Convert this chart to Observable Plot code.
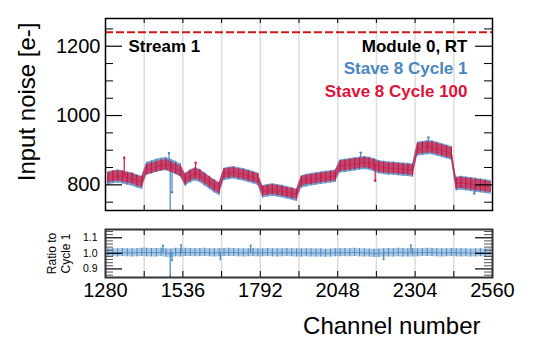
<!DOCTYPE html>
<html><head><meta charset="utf-8">
<script src="https://cdn.jsdelivr.net/npm/d3@7"></script>
<script src="https://cdn.jsdelivr.net/npm/@observablehq/plot@0.6"></script>
<style>
body{margin:0;background:#fff;}
#chart{position:relative;width:534px;height:356px;background:#fff;}
#chart svg{position:absolute;left:0;overflow:visible;}
</style></head><body><div id="chart"></div>
<script>
// ---- data (16-channel bins, 8 per 128-channel chip) ----
const binWidth = 16;
const firstChannel = 1280;
const cycle1 = [
  818, 822, 824, 822, 818, 816, 810, 806,
  846, 850, 855, 858, 860, 855, 849, 842,
  814, 824, 830, 826, 816, 806, 796, 788,
  830, 833, 835, 831, 829, 825, 821, 816,
  780, 783, 785, 783, 781, 777, 774, 770,
  808, 812, 815, 817, 819, 821, 823, 825,
  853, 855, 857, 859, 861, 863, 861, 857,
  851, 849, 847, 847, 845, 844, 843, 841,
  903, 905, 907, 907, 903, 899, 895, 891,
  802, 805, 803, 801, 799, 797, 795, 793
];
const cycle100 = [
  820, 824, 826, 824, 820, 818, 812, 808,
  844, 848, 852, 856, 858, 852, 846, 840,
  816, 826, 832, 828, 818, 808, 798, 790,
  832, 834, 836, 832, 830, 826, 822, 818,
  782, 784, 786, 784, 782, 778, 776, 772,
  810, 814, 816, 818, 820, 822, 824, 826,
  854, 856, 858, 860, 862, 864, 862, 858,
  852, 850, 848, 848, 846, 845, 844, 842,
  904, 906, 908, 908, 904, 900, 896, 892,
  804, 806, 804, 802, 800, 798, 796, 794
];
// visible half-width of the noisy band, per chip
const spread1 = [19, 19, 19, 18, 18, 18, 19, 19, 20, 20];
const spread100 = [15, 15, 15, 14, 14, 14, 15, 15, 16, 16];
const ratio = [
  1.003, 1.004, 1.003, 1.005, 1.004, 1.003, 1.004, 1.006,
  1.005, 1.004, 1.004, 1.006, 1.002, 1.001, 1.005, 1.004,
  1.006, 1.005, 1.004, 1.005, 1.006, 1.004, 1.003, 1.004,
  1.005, 1.006, 1.005, 1.004, 1.003, 1.004, 1.005, 1.004,
  1.004, 1.005, 1.004, 1.003, 1.004, 1.005, 1.004, 1.003,
  1.003, 1.004, 1.003, 1.002, 1.003, 1.001, 1.002, 1.004,
  1.004, 1.005, 1.004, 1.006, 1.004, 1.003, 1.002, 1.000,
  1.001, 1.003, 1.004, 1.003, 1.005, 1.004, 1.003, 1.004,
  1.004, 1.005, 1.006, 1.005, 1.004, 1.003, 1.004, 1.005,
  1.004, 1.003, 1.004, 1.002, 1.003, 1.004, 1.002, 1.003
];
const ratioSpread = [0.026, 0.027, 0.026, 0.026, 0.026, 0.026, 0.026, 0.027, 0.026, 0.026];
const outliers1 = [
  {channel: 1490, value: 892}, {channel: 1494, value: 700}, {channel: 1500, value: 779},
  {channel: 2124, value: 893}, {channel: 2348, value: 937}, {channel: 2500, value: 775}
];
const outliers100 = [
  {channel: 1342, value: 878}, {channel: 1578, value: 864}, {channel: 2172, value: 812}
];
const ratioOutliers = [
  {channel: 1494, value: 0.856}, {channel: 1500, value: 0.955}, {channel: 1470, value: 1.05},
  {channel: 1530, value: 1.052}, {channel: 1760, value: 1.05}, {channel: 2290, value: 1.052},
  {channel: 2200, value: 0.962}, {channel: 1660, value: 0.962}
];
const thresholdNoise = 1240;
const chipBoundaries = [1408, 1536, 1664, 1792, 1920, 2048, 2176, 2304, 2432];
const xTickLabels = [1280, 1536, 1792, 2048, 2304, 2560];
const yMajor = [800, 1000, 1200];
const yMinor = [750, 850, 900, 950, 1050, 1100, 1150, 1250];
const rMajor = [0.9, 1.0, 1.1];
const rMinor = [0.86, 0.88, 0.92, 0.94, 0.96, 0.98, 1.02, 1.04, 1.06, 1.08, 1.12, 1.14];

// ---- style ----
const BLUE = "#4a86c0", RED = "#dc143c";
const FONT = "Liberation Sans, Arial, Helvetica, sans-serif";
const W = 534, mL = 105, mR = 42;
const pw = W - mL - mR;

const rows = (vals, spread) => vals.map((v, i) => ({
  channel: firstChannel + binWidth / 2 + i * binWidth,
  value: v,
  lo: v - spread[Math.floor(i / 8)],
  hi: v + spread[Math.floor(i / 8)]
}));
const d1 = rows(cycle1, spread1);
const d100 = rows(cycle100, spread100);
const dr = rows(ratio, ratioSpread);
const base = (vals) => (o) => vals[Math.min(vals.length - 1, Math.floor((o.channel - firstChannel) / binWidth))];

// ---- main panel ----
const H1 = 212, t1 = 18, b1 = 2, ph1 = H1 - t1 - b1;
const main = Plot.plot({
  width: W, height: H1, marginLeft: mL, marginRight: mR, marginTop: t1, marginBottom: b1,
  style: {fontFamily: FONT, fontSize: "20px", background: "transparent"},
  x: {domain: [1280, 2560], axis: null},
  y: {domain: [726, 1280], axis: null},
  marks: [
    Plot.ruleX(chipBoundaries, {stroke: "#dcdcdc", strokeWidth: 1.5}),
    Plot.areaY(d1, {x: "channel", y1: "lo", y2: "hi", fill: BLUE, fillOpacity: 0.75}),
    Plot.ruleX(d1, {x: "channel", y1: "lo", y2: "hi", stroke: BLUE, strokeWidth: 1}),
    Plot.ruleX(outliers1, {x: "channel", y1: base(cycle1), y2: "value", stroke: BLUE, strokeWidth: 1.2, clip: true}),
    Plot.dot(outliers1, {x: "channel", y: "value", r: 1.2, fill: BLUE, clip: true}),
    Plot.areaY(d100, {x: "channel", y1: "lo", y2: "hi", fill: RED, fillOpacity: 0.6}),
    Plot.ruleX(d100, {x: "channel", y1: "lo", y2: "hi", stroke: RED, strokeWidth: 1.2}),
    Plot.line(d100, {x: "channel", y: "value", stroke: RED, strokeWidth: 0.8, strokeOpacity: 0.8}),
    Plot.ruleX(outliers100, {x: "channel", y1: base(cycle100), y2: "value", stroke: RED, strokeWidth: 1.2}),
    Plot.dot(outliers100, {x: "channel", y: "value", r: 1.2, fill: RED}),
    Plot.ruleY([thresholdNoise], {stroke: "#d01818", strokeWidth: 2, strokeDasharray: "8,3"}),
    // ticks
    Plot.tickX(chipBoundaries, {stroke: "#000", insetBottom: ph1 - 5}),
    Plot.tickX(chipBoundaries, {stroke: "#000", insetTop: ph1 - 5}),
    Plot.tickY(yMajor, {stroke: "#000", strokeWidth: 1.2, insetRight: pw - 17}),
    Plot.tickY(yMajor, {stroke: "#000", strokeWidth: 1.2, insetLeft: pw - 17}),
    Plot.tickY(yMinor, {stroke: "#000", insetRight: pw - 8}),
    Plot.tickY(yMinor, {stroke: "#000", insetLeft: pw - 8}),
    Plot.frame({stroke: "#000", strokeWidth: 1.5}),
    Plot.axisY(yMajor, {anchor: "left", tickSize: 0, tickPadding: 5, fontSize: 20, tickFormat: d => String(d), label: null}),
    Plot.text(["Input noise [e-]"], {text: d => d, frameAnchor: "top-left", dx: -71, dy: 4, rotate: -90,
      textAnchor: "end", lineAnchor: "bottom", fontSize: 24, fill: "#000"}),
    Plot.text(["Stream 1"], {text: d => d, frameAnchor: "top-left", dx: 23, dy: 33, textAnchor: "start",
      lineAnchor: "bottom", fontSize: 17, fontWeight: "bold", fill: "#000"}),
    Plot.text(["Module 0, RT"], {text: d => d, frameAnchor: "top-right", dx: -25, dy: 33, textAnchor: "end",
      lineAnchor: "bottom", fontSize: 17, fontWeight: "bold", fill: "#000"}),
    Plot.text(["Stave 8 Cycle 1"], {text: d => d, frameAnchor: "top-right", dx: -25, dy: 55, textAnchor: "end",
      lineAnchor: "bottom", fontSize: 17, fontWeight: "bold", fill: BLUE}),
    Plot.text(["Stave 8 Cycle 100"], {text: d => d, frameAnchor: "top-right", dx: -25, dy: 78.5, textAnchor: "end",
      lineAnchor: "bottom", fontSize: 17, fontWeight: "bold", fill: RED})
  ]
});
main.style.top = "0px";

// ---- ratio panel ----
const H2 = 144, t2 = 17, b2 = 79, ph2 = H2 - t2 - b2;
const ratioPlot = Plot.plot({
  width: W, height: H2, marginLeft: mL, marginRight: mR, marginTop: t2, marginBottom: b2,
  style: {fontFamily: FONT, fontSize: "20px", background: "transparent"},
  x: {domain: [1280, 2560], axis: null},
  y: {domain: [0.845, 1.153], axis: null},
  marks: [
    Plot.ruleX(chipBoundaries, {stroke: "#dcdcdc", strokeWidth: 1.5}),
    Plot.areaY(dr, {x: "channel", y1: "lo", y2: "hi", fill: BLUE, fillOpacity: 0.45}),
    Plot.ruleX(dr, {x: "channel", y1: "lo", y2: "hi", stroke: BLUE, strokeWidth: 1}),
    Plot.line(dr, {x: "channel", y: "value", stroke: BLUE, strokeWidth: 0.8}),
    Plot.ruleX(ratioOutliers, {x: "channel", y1: base(ratio), y2: "value", stroke: BLUE, strokeWidth: 1.2}),
    Plot.dot(ratioOutliers, {x: "channel", y: "value", r: 1.1, fill: BLUE}),
    Plot.tickX(chipBoundaries, {stroke: "#000", insetBottom: ph2 - 6}),
    Plot.tickX(chipBoundaries, {stroke: "#000", insetTop: ph2 - 6}),
    Plot.tickY(rMajor, {stroke: "#000", strokeWidth: 1.2, insetRight: pw - 17}),
    Plot.tickY(rMajor, {stroke: "#000", strokeWidth: 1.2, insetLeft: pw - 17}),
    Plot.tickY(rMinor, {stroke: "#555", insetRight: pw - 8}),
    Plot.tickY(rMinor, {stroke: "#555", insetLeft: pw - 8}),
    Plot.frame({stroke: "#333", strokeWidth: 2}),
    Plot.axisY(rMajor, {anchor: "left", tickSize: 0, tickPadding: 8, fontSize: 10.5, tickFormat: d3.format(".1f"), label: null}),
    Plot.axisX(xTickLabels, {anchor: "bottom", tickSize: 0, tickPadding: 5, fontSize: 20, tickFormat: d => String(d), label: null}),
    Plot.text(["Ratio to\nCycle 1"], {text: d => d, frameAnchor: "left", dx: -47, rotate: -90,
      textAnchor: "middle", lineAnchor: "middle", fontSize: 12, lineHeight: 1.15, fill: "#000"}),
    Plot.text(["Channel number"], {text: d => d, frameAnchor: "bottom-right", dx: -12, dy: 56,
      textAnchor: "end", lineAnchor: "bottom", fontSize: 24, fill: "#000"})
  ]
});
ratioPlot.style.top = H1 + "px";

const chart = document.getElementById("chart");
chart.appendChild(main);
chart.appendChild(ratioPlot);
</script>
</body></html>
